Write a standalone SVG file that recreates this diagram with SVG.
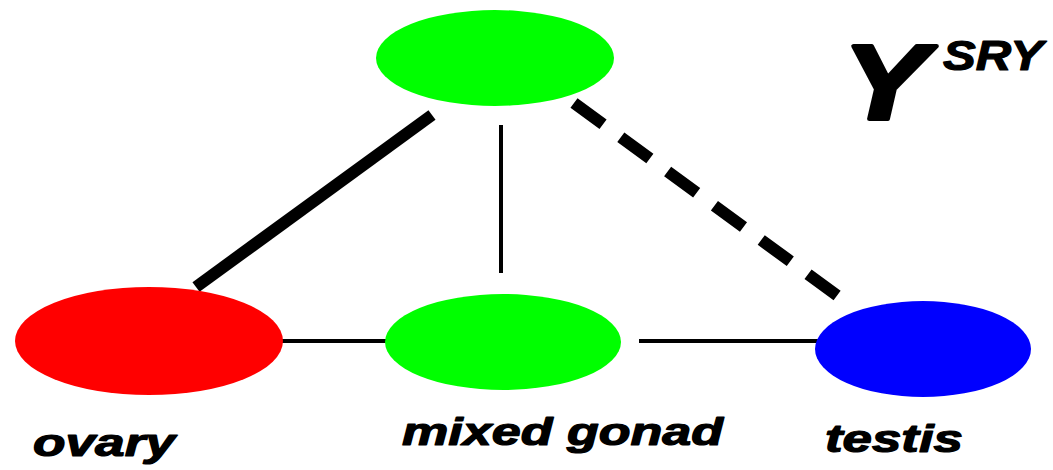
<svg xmlns="http://www.w3.org/2000/svg" width="1053" height="470" viewBox="0 0 1053 470">
  <style>
    .lbl { font-family: "Liberation Sans", Arial, sans-serif; font-weight: bold; font-style: italic; fill: #000; stroke: #000; stroke-width: 1.2; stroke-linejoin: round; }
    .edge { stroke: #000; fill: none; }
  </style>
  <rect width="1053" height="470" fill="#fff"/>

  <!-- connectors -->
  <g id="connectors">
    <line class="edge" x1="432" y1="115" x2="196" y2="287" stroke-width="12"/>
    <line class="edge" x1="501" y1="125" x2="501" y2="273" stroke-width="4"/>
    <line class="edge" x1="574" y1="103" x2="846" y2="302" stroke-width="12" stroke-dasharray="36 22"/>
    <line class="edge" x1="281" y1="341" x2="405" y2="341" stroke-width="4"/>
    <line class="edge" x1="639" y1="341" x2="829" y2="341" stroke-width="4"/>
  </g>

  <g id="top">
    <ellipse cx="495" cy="58" rx="119" ry="48" fill="#00ff00"/>
  </g>
  <g id="ovary">
    <ellipse cx="149" cy="341" rx="134" ry="54" fill="#ff0000"/>
    <text class="lbl" x="33" y="456" font-size="38" textLength="142" lengthAdjust="spacingAndGlyphs">ovary</text>
  </g>
  <g id="mixed-gonad">
    <ellipse cx="503" cy="342" rx="118" ry="48" fill="#00ff00"/>
    <text class="lbl" x="402" y="445" font-size="38" textLength="321" lengthAdjust="spacingAndGlyphs">mixed gonad</text>
  </g>
  <g id="testis">
    <ellipse cx="923" cy="349" rx="108" ry="48" fill="#0000ff"/>
    <text class="lbl" x="825" y="452" font-size="38" textLength="138" lengthAdjust="spacingAndGlyphs">testis</text>
  </g>
  <g id="y-sry">
    <text class="lbl" x="843" y="119" font-size="106" textLength="84" lengthAdjust="spacingAndGlyphs" style="stroke-width:4">Y</text>
    <text class="lbl" x="943" y="70" font-size="42" textLength="100" lengthAdjust="spacingAndGlyphs">SRY</text>
  </g>
</svg>
